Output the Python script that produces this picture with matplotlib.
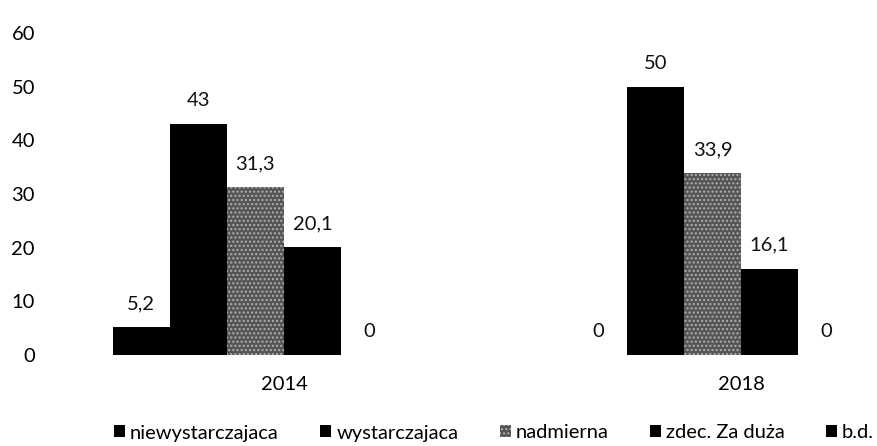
import matplotlib
matplotlib.use("Agg")
import matplotlib.pyplot as plt
import numpy as np

categories = ["2014", "2018"]
series_names = ["niewystarczajaca", "wystarczajaca", "nadmierna", "zdec. Za duża", "b.d."]
values = {
    "niewystarczajaca": [5.2, 0],
    "wystarczajaca": [43, 50],
    "nadmierna": [31.3, 33.9],
    "zdec. Za duża": [20.1, 16.1],
    "b.d.": [0, 0],
}
labels = {
    "niewystarczajaca": ["5,2", "0"],
    "wystarczajaca": ["43", "50"],
    "nadmierna": ["31,3", "33,9"],
    "zdec. Za duża": ["20,1", "16,1"],
    "b.d.": ["0", "0"],
}
yticks = [0, 10, 20, 30, 40, 50, 60]

plt.rcParams['font.family'] = ['Lato', 'DejaVu Sans']
plt.rcParams['hatch.linewidth'] = 1.0

FS = 14.5
W, H = 878, 446
fig = plt.figure(figsize=(W / 100, H / 100), dpi=100)
ax_left, ax_right = 60, 878
ax_bottom, ax_top = 446 - 355, 446 - 33
ax = fig.add_axes([ax_left / W, ax_bottom / H, (ax_right - ax_left) / W, (ax_top - ax_bottom) / H])

x = np.arange(len(categories))
w = 0.125
nslots = 6
styles = [
    dict(color="black"),
    dict(color="black"),
    dict(facecolor="#555555", edgecolor="#b0b0b0", hatch="....", linewidth=0),
    dict(color="black"),
    dict(color="black"),
]
handles = []
for i, name in enumerate(series_names):
    pos = x + (i - (nslots - 1) / 2) * w
    bars = ax.bar(pos, values[name], width=w, label=name, **styles[i])
    handles.append(bars)
    for b, lab in zip(bars, labels[name]):
        ax.annotate(lab, (b.get_x() + b.get_width() / 2, b.get_height()),
                    xytext=(0, 17), textcoords="offset points",
                    ha="center", va="center", fontsize=FS, color="#111111")

ax.set_ylim(0, 60)
ax.set_xlim((ax_left - 284) / 457, (ax_right - 284) / 457)
ax.set_yticks(yticks)
ax.set_yticklabels([str(t) for t in yticks], fontsize=FS)
ax.set_xticks(x)
ax.set_xticklabels(categories, fontsize=FS)
ax.tick_params(axis="y", length=0, pad=18)
ax.tick_params(axis="x", length=0, pad=15)
for s in ax.spines.values():
    s.set_visible(False)

fig.legend(handles=handles, labels=series_names, loc="center", ncol=5,
           bbox_to_anchor=(494 / W, 1 - 433 / H), frameon=False, fontsize=FS,
           handlelength=0.55, handleheight=0.55, handletextpad=0.25, columnspacing=2.05,
           borderpad=0.1)

fig.savefig("out.png", dpi=100)
